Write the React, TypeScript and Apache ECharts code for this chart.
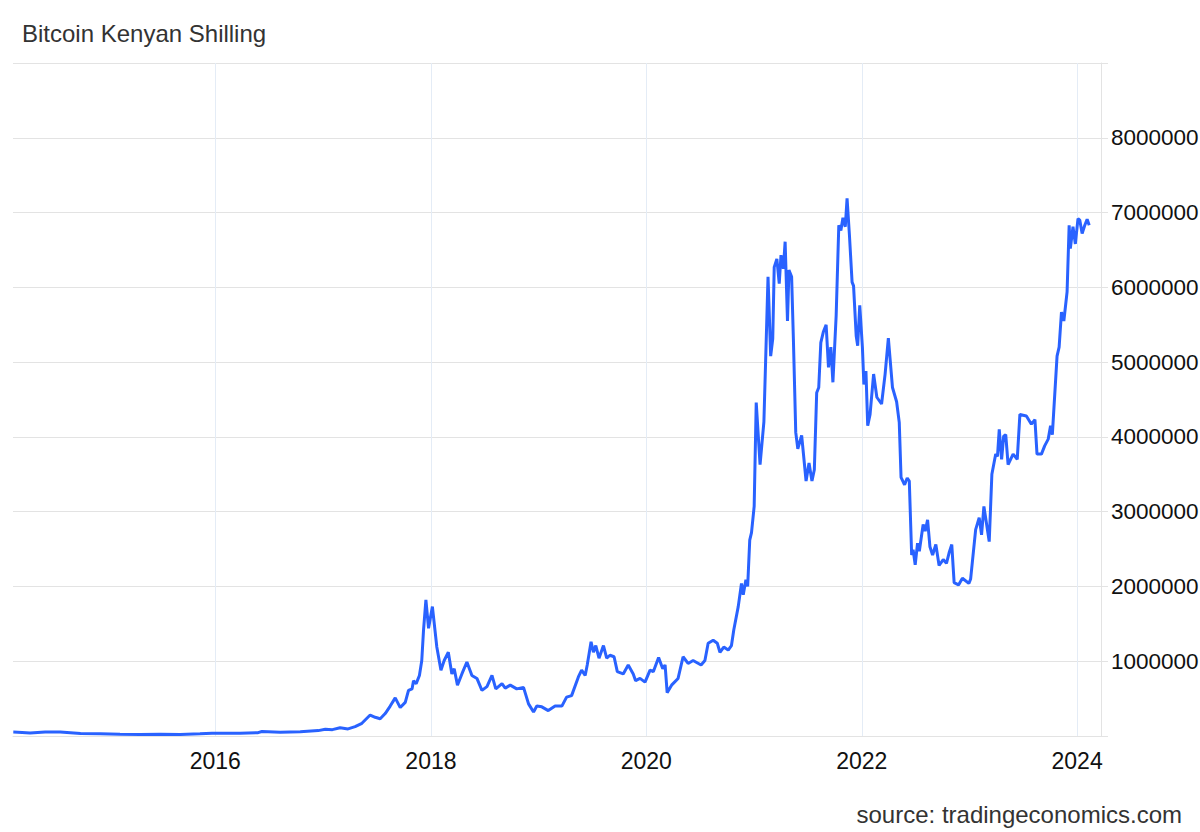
import React, { useEffect, useRef } from "react";
import * as echarts from "echarts";

const titleText = "Bitcoin Kenyan Shilling";
const sourceText = "source: tradingeconomics.com";
const yearTicks = ["2016-01-01", "2018-01-01", "2020-01-01", "2022-01-01", "2024-01-01"];
const yTickValues = [1000000, 2000000, 3000000, 4000000, 5000000, 6000000, 7000000, 8000000];

const dates = [
  "2014-02-15", "2014-03-17", "2014-04-13", "2014-06-03", "2014-07-24", "2014-10-01", "2014-12-07",
  "2015-02-12", "2015-04-21", "2015-06-28", "2015-09-04", "2015-11-10", "2015-12-21",
  "2016-03-25", "2016-05-25", "2016-06-07", "2016-08-08", "2016-10-15", "2016-12-15",
  "2017-01-08", "2017-02-01", "2017-02-27", "2017-03-26", "2017-04-19", "2017-05-12", "2017-06-09",
  "2017-06-26", "2017-07-13", "2017-07-30", "2017-08-16", "2017-09-02", "2017-09-19", "2017-10-06",
  "2017-10-17", "2017-10-29", "2017-11-03", "2017-11-12", "2017-11-23", "2017-12-01", "2017-12-07",
  "2017-12-15", "2017-12-24",
  "2018-01-06", "2018-01-21", "2018-02-04", "2018-02-15", "2018-03-01", "2018-03-13", "2018-03-21",
  "2018-04-01", "2018-04-16", "2018-05-03", "2018-05-20", "2018-06-06", "2018-06-23", "2018-07-10",
  "2018-07-27", "2018-08-09", "2018-08-30", "2018-09-10", "2018-09-27", "2018-10-19", "2018-11-11",
  "2018-11-28", "2018-12-15", "2018-12-26",
  "2019-01-12", "2019-02-03", "2019-02-26", "2019-03-21", "2019-04-06", "2019-04-23", "2019-05-16",
  "2019-05-27", "2019-06-08", "2019-06-15", "2019-06-28", "2019-07-06", "2019-07-14", "2019-07-25",
  "2019-08-09", "2019-08-20", "2019-08-31", "2019-09-14", "2019-09-25", "2019-10-15", "2019-11-01",
  "2019-11-18", "2019-11-26", "2019-12-11", "2019-12-28",
  "2020-01-14", "2020-01-25", "2020-02-12", "2020-02-26", "2020-03-05", "2020-03-12", "2020-03-27",
  "2020-04-18", "2020-05-05", "2020-05-22", "2020-06-08", "2020-07-05", "2020-07-18", "2020-07-29",
  "2020-08-15", "2020-08-29", "2020-09-07", "2020-09-20", "2020-10-05", "2020-10-16", "2020-10-24",
  "2020-11-08", "2020-11-19", "2020-11-25", "2020-12-04", "2020-12-10", "2020-12-17", "2020-12-23",
  "2021-01-01", "2021-01-08", "2021-01-21", "2021-02-03", "2021-02-17", "2021-02-26", "2021-03-05",
  "2021-03-10", "2021-03-19", "2021-03-27", "2021-04-02", "2021-04-10", "2021-04-16", "2021-04-24",
  "2021-04-29", "2021-05-08", "2021-05-14", "2021-05-22", "2021-05-29", "2021-06-11", "2021-06-26",
  "2021-07-06", "2021-07-16", "2021-07-24", "2021-08-01", "2021-08-08", "2021-08-15", "2021-08-24",
  "2021-09-02", "2021-09-10", "2021-09-18", "2021-09-25", "2021-10-06", "2021-10-15", "2021-10-22",
  "2021-10-29", "2021-11-06", "2021-11-12", "2021-11-20", "2021-11-29", "2021-12-04", "2021-12-13",
  "2021-12-18", "2021-12-25",
  "2022-01-03", "2022-01-08", "2022-01-15", "2022-01-21", "2022-01-29", "2022-02-10", "2022-02-21",
  "2022-03-09", "2022-03-21", "2022-04-01", "2022-04-15", "2022-04-29", "2022-05-08", "2022-05-14",
  "2022-05-26", "2022-06-04", "2022-06-11", "2022-06-19", "2022-06-24", "2022-07-01", "2022-07-09",
  "2022-07-15", "2022-07-28", "2022-08-04", "2022-08-12", "2022-08-20", "2022-08-29", "2022-09-09",
  "2022-09-20", "2022-10-04", "2022-10-15", "2022-10-24", "2022-11-02", "2022-11-10", "2022-11-25",
  "2022-12-08", "2022-12-30",
  "2023-01-05", "2023-01-22", "2023-02-03", "2023-02-11", "2023-02-19", "2023-03-09", "2023-03-18",
  "2023-03-31", "2023-04-06", "2023-04-12", "2023-04-20", "2023-04-27", "2023-05-04", "2023-05-12",
  "2023-05-29", "2023-06-12", "2023-06-21", "2023-07-13", "2023-07-30", "2023-08-11", "2023-08-18",
  "2023-09-02", "2023-09-13", "2023-09-25", "2023-10-03", "2023-10-09", "2023-10-25", "2023-11-01",
  "2023-11-09", "2023-11-17", "2023-11-28", "2023-12-05", "2023-12-09", "2023-12-18", "2023-12-26",
  "2024-01-04", "2024-01-10", "2024-01-18", "2024-01-27", "2024-02-04", "2024-02-11",
];

const values = [
  52000, 48000, 40000, 55000, 53000, 35000, 30000,
  22000, 20000, 22000, 21000, 30000, 38000,
  36000, 45000, 60000, 50000, 58000, 72000,
  90000, 85000, 110000, 95000, 125000, 170000, 280000,
  250000, 230000, 300000, 400000, 510000, 380000, 450000,
  610000, 630000, 740000, 700000, 810000, 1010000, 1420000,
  1820000, 1440000,
  1730000, 1190000, 880000, 1010000, 1120000, 830000, 900000,
  680000, 830000, 990000, 810000, 770000, 610000, 660000,
  810000, 630000, 700000, 640000, 680000, 630000, 650000,
  430000, 320000, 400000,
  390000, 340000, 400000, 400000, 520000, 540000, 790000,
  880000, 810000, 950000, 1260000, 1120000, 1210000, 1040000,
  1210000, 1040000, 1080000, 1060000, 860000, 830000, 950000,
  830000, 740000, 770000, 720000,
  880000, 860000, 1050000, 900000, 950000, 580000, 680000,
  770000, 1060000, 970000, 1010000, 950000, 1010000, 1240000,
  1280000, 1240000, 1120000, 1190000, 1150000, 1210000, 1420000,
  1730000, 2040000, 1890000, 2090000, 2000000, 2620000, 2720000,
  3070000, 4460000, 3630000, 4200000, 6140000, 5080000, 5310000,
  6270000, 6380000, 6050000, 6430000, 6250000, 6610000, 5550000,
  6230000, 6140000, 5310000, 4060000, 3840000, 4020000, 3410000,
  3650000, 3410000, 3560000, 4590000, 4660000, 5260000, 5410000,
  5500000, 4930000, 5200000, 4730000, 5620000, 6830000, 6760000,
  6930000, 6810000, 7190000, 6700000, 6070000, 6020000, 5350000,
  5220000, 5760000,
  5200000, 4700000, 4880000, 4150000, 4300000, 4840000, 4530000,
  4440000, 4840000, 5320000, 4660000, 4470000, 4190000, 3460000,
  3360000, 3450000, 3410000, 2420000, 2490000, 2290000, 2580000,
  2470000, 2830000, 2740000, 2890000, 2530000, 2420000, 2560000,
  2280000, 2360000, 2310000, 2450000, 2560000, 2050000, 2020000,
  2110000, 2040000,
  2100000, 2760000, 2920000, 2690000, 3070000, 2600000, 3500000,
  3770000, 3740000, 4100000, 3700000, 4010000, 4030000, 3630000,
  3770000, 3700000, 4300000, 4280000, 4170000, 4230000, 3770000,
  3770000, 3880000, 3970000, 4150000, 4030000, 5080000, 5200000,
  5670000, 5550000, 5940000, 6830000, 6520000, 6810000, 6580000,
  6920000, 6900000, 6720000, 6830000, 6910000, 6830000,
];

const toTs = (s: string) => {
  const [y, m, d] = s.split("-").map(Number);
  return Date.UTC(y, m - 1, d);
};

const FONT = "'Liberation Sans', Arial, Helvetica, sans-serif";

export default function App() {
  const ref = useRef<HTMLDivElement>(null);

  useEffect(() => {
    if (!ref.current) return;
    const chart = echarts.init(ref.current, undefined, { renderer: "svg" });
    const seriesData = dates.map((d, i) => [toTs(d), values[i]]);
    const yearTs = yearTicks.map(toTs);

    chart.setOption({
      animation: false,
      backgroundColor: "#ffffff",
      title: {
        text: titleText,
        left: 22,
        top: 21,
        padding: 0,
        textStyle: {
          fontFamily: FONT,
          fontSize: 24,
          fontWeight: "normal",
          color: "#333333",
        },
      },
      graphic: [
        {
          type: "text",
          x: 1182,
          y: 814,
          style: {
            text: sourceText,
            font: `24px ${FONT}`,
            fill: "#333333",
            textAlign: "right",
            textVerticalAlign: "middle",
          },
        },
      ],
      grid: {
        left: 13,
        right: 99,
        top: 63,
        bottom: 96,
        containLabel: false,
        outerBoundsMode: "none",
      },
      xAxis: {
        type: "value",
        min: toTs("2014-02-14"),
        max: toTs("2024-03-22"),
        axisLine: { show: true, lineStyle: { color: "#e3e3e3", width: 1 } },
        axisTick: { show: false, customValues: yearTs },
        axisLabel: {
          customValues: yearTs,
          margin: 13,
          fontFamily: FONT,
          fontSize: 23,
          color: "#111111",
          formatter: (v: number) => String(new Date(v).getUTCFullYear()),
        },
        splitLine: { show: true, lineStyle: { color: "#e4ecf6", width: 1 } },
      },
      yAxis: {
        type: "value",
        position: "right",
        min: 0,
        max: 9000000,
        interval: 1000000,
        axisLine: { show: true, lineStyle: { color: "#e3e3e3", width: 1 } },
        axisTick: { show: true, length: 7, inside: false, lineStyle: { color: "#e3e3e3" } },
        axisLabel: {
          margin: 10,
          fontFamily: FONT,
          fontSize: 22.5,
          color: "#111111",
          formatter: (v: number) => (yTickValues.indexOf(v) >= 0 ? String(v) : ""),
        },
        splitLine: { show: true, lineStyle: { color: "#e3e3e3", width: 1 } },
      },
      series: [
        {
          type: "line",
          data: seriesData,
          showSymbol: false,
          symbol: "none",
          lineStyle: { color: "#2962ff", width: 3 },
          itemStyle: { color: "#2962ff" },
        },
      ],
    });

    return () => chart.dispose();
  }, []);

  return (
    <div
      ref={ref}
      style={{ position: "absolute", left: 0, top: 0, width: 1200, height: 832 }}
    />
  );
}
